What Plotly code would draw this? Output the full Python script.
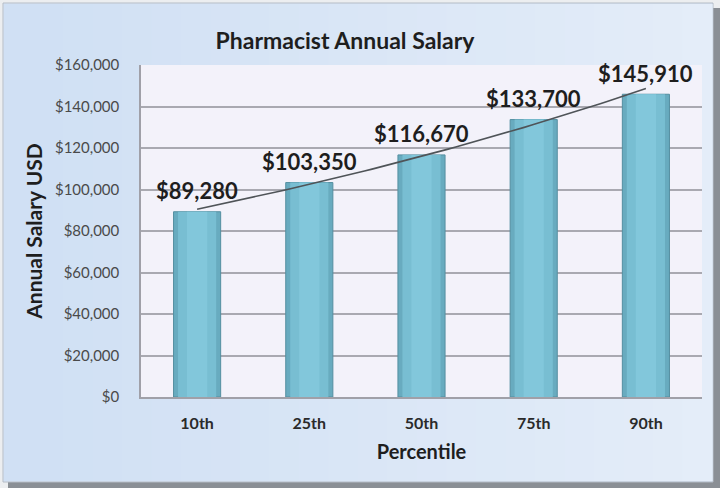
import numpy as np
import plotly.graph_objects as go

# ---- data ----
categories = ["10th", "25th", "50th", "75th", "90th"]
salaries = [89280, 103350, 116670, 133700, 145910]
label_texts = ["$89,280", "$103,350", "$116,670", "$133,700", "$145,910"]
y_tickvals = [0, 20000, 40000, 60000, 80000, 100000, 120000, 140000, 160000]
y_ticktext = ["$0", "$20,000", "$40,000", "$60,000", "$80,000",
              "$100,000", "$120,000", "$140,000", "$160,000"]

W, H = 720, 488
L, R, T, B = 141, 18, 65, 91
PW, PH = W - L - R, H - T - B

def px(x):
    return (x - L) / PW

def py(y):
    return (H - B - y) / PH

xs = list(range(len(categories)))

# exponential trendline fitted to the data
coef = np.polyfit(xs, np.log(salaries), 1)
tx = np.linspace(0, len(categories) - 1, 60)
ty = np.exp(np.polyval(coef, tx))

fig = go.Figure()
fig.add_trace(go.Bar(x=xs, y=salaries, width=0.42,
                     marker=dict(color="#68abbf", line=dict(color="#548fa0", width=1)),
                     hoverinfo="skip"))
fig.add_trace(go.Bar(x=xs, y=salaries, width=0.34,
                     marker=dict(color="#78bed2", line=dict(width=0)),
                     hoverinfo="skip"))
fig.add_trace(go.Bar(x=xs, y=salaries, width=0.18,
                     marker=dict(color="#82c7db", line=dict(width=0)),
                     hoverinfo="skip"))
fig.add_trace(go.Scatter(x=tx, y=ty, mode="lines",
                         line=dict(color="#4f5458", width=1.6),
                         hoverinfo="skip"))

for i, (v, t) in enumerate(zip(salaries, label_texts)):
    fig.add_annotation(x=i, y=v, text=t, showarrow=False, yshift=21,
                       font=dict(family="Lato", size=22, color="#1e1e1e", weight="bold"))

shapes = []
# shadow and panel
shapes.append(dict(type="rect", xref="paper", yref="paper", layer="below",
                   x0=px(8), x1=px(720), y0=py(488), y1=py(8),
                   fillcolor="#8a8f95", line=dict(width=0)))
shapes.append(dict(type="rect", xref="paper", yref="paper", layer="below",
                   x0=px(3), x1=px(713), y0=py(482), y1=py(3),
                   fillcolor="#dae6f6", line=dict(color="#b4bcc6", width=1)))
# gentle horizontal gradient of the panel
n = 24
c0 = np.array([0xd0, 0xe0, 0xf4])
c1 = np.array([0xe4, 0xed, 0xf9])
for k in range(n):
    x0 = 4 + (712 - 4) * k / n
    x1 = 4 + (712 - 4) * (k + 1) / n
    c = (c0 + (c1 - c0) * k / (n - 1)).astype(int)
    shapes.append(dict(type="rect", xref="paper", yref="paper", layer="below",
                       x0=px(x0), x1=px(x1) + 0.001, y0=py(481), y1=py(4),
                       fillcolor="rgb(%d,%d,%d)" % tuple(c), line=dict(width=0)))
# plot area background
shapes.append(dict(type="rect", xref="paper", yref="paper", layer="below",
                   x0=0, x1=1, y0=0, y1=1,
                   fillcolor="#f3f2fa", line=dict(width=0)))

fig.update_layout(
    width=W, height=H,
    margin=dict(l=L, r=R, t=T, b=B),
    paper_bgcolor="#eceef0",
    plot_bgcolor="#f3f2fa",
    barmode="overlay",
    showlegend=False,
    shapes=shapes,
    title=dict(text="Pharmacist Annual Salary", xref="container", x=345 / W, xanchor="center",
               yref="container", y=1 - 41 / H, yanchor="middle",
               font=dict(family="Lato", size=23, color="#1e1e1e", weight="bold")),
    xaxis=dict(tickvals=xs, ticktext=categories, range=[-0.5, len(categories) - 0.5],
               automargin=False,
               showgrid=False, zeroline=False, showline=True, linecolor="#a0a0a8", linewidth=1.5,
               ticks="", ticklabelstandoff=11,
               tickfont=dict(family="Lato", size=16, color="#2a2a2a", weight="bold"),
               title=dict(text="Percentile", standoff=14,
                          font=dict(family="Lato", size=20, color="#1e1e1e", weight="bold"))),
    yaxis=dict(range=[0, 160000], tickvals=y_tickvals, ticktext=y_ticktext,
               automargin=False,
               showgrid=True, gridcolor="#a9a9b1", gridwidth=1.5,
               zeroline=False, showline=True, linecolor="#a0a0a8", linewidth=1.5,
               ticks="", ticklabelstandoff=17,
               tickfont=dict(family="Lato", size=15, color="#4a4a4a"),
               title=dict(text="Annual Salary USD", standoff=7,
                          font=dict(family="Lato", size=21, color="#1e1e1e", weight="bold"))),
)

fig.write_html("out.html", config={"displayModeBar": False},
               post_script="document.body.style.margin='0';")
